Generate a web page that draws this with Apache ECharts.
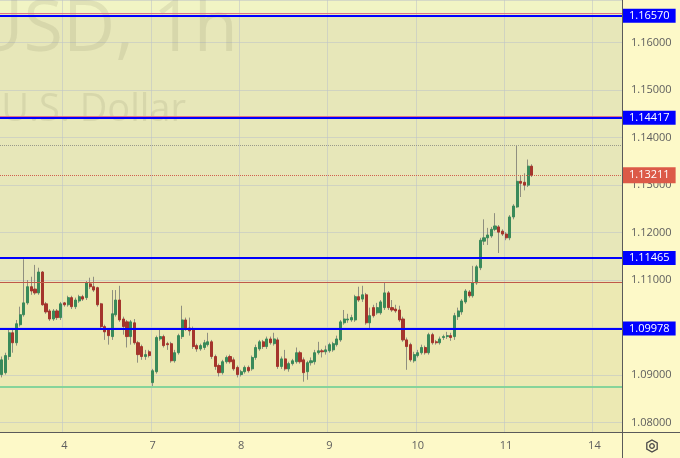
<!DOCTYPE html>
<html>
<head>
<meta charset="utf-8">
<script src="https://cdn.jsdelivr.net/npm/echarts@6/dist/echarts.min.js"></script>
<style>
  html, body { margin: 0; padding: 0; background: #fdf9c8; }
  #chart { width: 680px; height: 458px; }
</style>
</head>
<body>
<div id="chart"></div>
<script>
// days shown on the time axis (1h candles, weekend skipped)
var days = ['3', '4', '7', '8', '9', '10', '11', '14'];
var firstHour = 7;      // first visible hour on day 3
var lastDayHours = 8;   // empty slots shown on day 14

var opens = [1.0901,1.0905,1.0939,1.0989,1.0968,1.1006,1.1027,1.1052,1.1086,1.1081,
  1.1073,1.1117,1.1050,1.1035,1.1018,1.1035,1.1021,1.1052,1.1048,1.1063,
  1.1044,1.1056,1.1065,1.1063,1.1092,1.1086,1.1084,1.1050,1.1002,1.0995,
  1.0981,1.1027,1.1058,1.1018,1.1012,1.0981,1.1010,1.0968,1.0960,1.0939,
  1.0949,1.0884,1.0907,1.0976,1.0981,1.0966,1.0966,1.0930,1.0947,1.0981,
  1.1016,1.0999,1.0997,1.0962,1.0955,1.0958,1.0964,1.0970,1.0939,1.0920,
  1.0905,1.0928,1.0939,1.0932,1.0916,1.0901,1.0907,1.0916,1.0913,1.0937,
  1.0955,1.0970,1.0960,1.0976,1.0966,1.0974,1.0918,1.0934,1.0913,1.0924,
  1.0928,1.0947,1.0932,1.0907,1.0926,1.0928,1.0947,1.0951,1.0949,1.0951,
  1.0953,1.0964,1.0974,1.1010,1.1016,1.1016,1.1016,1.1065,1.1060,1.1069,
  1.1010,1.1042,1.1031,1.1031,1.1042,1.1073,1.1042,1.1039,1.1037,1.1018,
  1.0974,1.0964,1.0930,1.0941,1.0947,1.0958,1.0947,1.0985,1.0970,1.0968,
  1.0979,1.0981,1.0983,1.0981,1.1023,1.1033,1.1054,1.1075,1.1067,1.1094,
  1.1126,1.1182,1.1189,1.1193,1.1207,1.1212,1.1203,1.1197,1.1189,1.1233,
  1.1254,1.1308,1.1306,1.1300,1.1340];
var closes = [1.0932,1.0941,1.0989,1.0968,1.1008,1.1027,1.1052,1.1086,1.1077,1.1073,
  1.1117,1.1048,1.1033,1.1018,1.1035,1.1021,1.1050,1.1048,1.1063,1.1044,
  1.1058,1.1065,1.1060,1.1094,1.1086,1.1079,1.1048,1.1002,1.0991,1.0983,
  1.1029,1.1058,1.1016,1.1002,1.0981,1.1012,1.0968,1.0943,1.0939,1.0943,
  1.0941,1.0909,1.0979,1.0981,1.0962,1.0964,1.0930,1.0947,1.0983,1.1016,
  1.0997,1.0993,1.0960,1.0955,1.0962,1.0968,1.0970,1.0939,1.0918,1.0905,
  1.0928,1.0937,1.0928,1.0913,1.0901,1.0907,1.0916,1.0909,1.0937,1.0958,
  1.0970,1.0960,1.0976,1.0968,1.0976,1.0918,1.0934,1.0913,1.0924,1.0930,
  1.0947,1.0928,1.0905,1.0926,1.0930,1.0947,1.0951,1.0949,1.0953,1.0964,
  1.0966,1.0976,1.1012,1.1018,1.1018,1.1021,1.1065,1.1058,1.1069,1.1010,
  1.1025,1.1025,1.1042,1.1054,1.1073,1.1042,1.1037,1.1035,1.1016,1.0974,
  1.0960,1.0932,1.0943,1.0947,1.0958,1.0947,1.0985,1.0968,1.0968,1.0976,
  1.0981,1.0983,1.0979,1.1025,1.1035,1.1056,1.1077,1.1067,1.1094,1.1128,
  1.1184,1.1189,1.1195,1.1207,1.1214,1.1201,1.1197,1.1189,1.1233,1.1256,
  1.1308,1.1304,1.1300,1.1340,1.13211];
var lows = [1.0895,1.0901,1.0932,1.0947,1.0962,1.1002,1.1023,1.1048,1.1069,1.1069,
  1.1069,1.1046,1.1029,1.1014,1.1014,1.1016,1.1016,1.1044,1.1044,1.1039,
  1.1039,1.1052,1.1056,1.1058,1.1081,1.1075,1.1044,1.0997,1.0974,1.0964,
  1.0974,1.1023,1.1012,1.0985,1.0958,1.0964,1.0964,1.0926,1.0932,1.0932,
  1.0937,1.0876,1.0903,1.0972,1.0958,1.0953,1.0926,1.0926,1.0943,1.0976,
  1.0993,1.0983,1.0955,1.0949,1.0951,1.0953,1.0960,1.0934,1.0911,1.0897,
  1.0901,1.0924,1.0924,1.0909,1.0895,1.0897,1.0903,1.0905,1.0909,1.0932,
  1.0951,1.0955,1.0955,1.0964,1.0962,1.0913,1.0913,1.0909,1.0907,1.0920,
  1.0924,1.0924,1.0886,1.0890,1.0920,1.0922,1.0943,1.0937,1.0943,1.0947,
  1.0949,1.0960,1.0970,1.1006,1.1010,1.1012,1.1012,1.1054,1.1054,1.1006,
  1.0999,1.1021,1.1027,1.1027,1.1037,1.1037,1.1033,1.1031,1.1012,1.0970,
  1.0911,1.0928,1.0926,1.0937,1.0943,1.0943,1.0943,1.0964,1.0964,1.0964,
  1.0974,1.0976,1.0972,1.0974,1.1016,1.1027,1.1050,1.1063,1.1063,1.1090,
  1.1121,1.1174,1.1174,1.1189,1.1203,1.1157,1.1193,1.1184,1.1184,1.1228,
  1.1252,1.1275,1.1289,1.1296,1.1317];
var highs = [1.0939,1.0947,1.0995,1.0995,1.1016,1.1044,1.1144,1.1100,1.1107,1.1132,
  1.1126,1.1119,1.1054,1.1039,1.1039,1.1039,1.1054,1.1054,1.1067,1.1067,
  1.1063,1.1069,1.1069,1.1098,1.1105,1.1107,1.1086,1.1052,1.1006,1.0999,
  1.1079,1.1079,1.1088,1.1023,1.1016,1.1016,1.1018,1.0972,1.0964,1.0953,
  1.0953,1.0913,1.0983,1.0999,1.0985,1.0970,1.0970,1.0953,1.0987,1.1046,
  1.1021,1.1021,1.1002,1.0966,1.0966,1.0974,1.0989,1.0974,1.0943,1.0924,
  1.0932,1.0941,1.0943,1.0937,1.0920,1.0911,1.0920,1.0920,1.0941,1.0964,
  1.0974,1.0974,1.0981,1.0981,1.0989,1.0979,1.0939,1.0953,1.0928,1.0934,
  1.0958,1.0951,1.0937,1.0930,1.0937,1.0953,1.0970,1.0955,1.0962,1.0968,
  1.0970,1.0983,1.1016,1.1037,1.1029,1.1027,1.1069,1.1086,1.1088,1.1073,
  1.1042,1.1048,1.1052,1.1058,1.1094,1.1077,1.1058,1.1048,1.1046,1.1023,
  1.0979,1.0968,1.0949,1.0953,1.0964,1.0962,1.0989,1.0989,1.0974,1.0981,
  1.0985,1.0991,1.0989,1.1031,1.1042,1.1060,1.1081,1.1079,1.1130,1.1132,
  1.1189,1.1228,1.1210,1.1212,1.1241,1.1216,1.1207,1.1201,1.1237,1.1260,
  1.1384,1.1321,1.1325,1.1354,1.1344];

// drawn levels
var blueLevels = [1.16570, 1.14417, 1.11465, 1.09978];
var pinkLevels = [1.1663, 1.14455];
var brownLevel = 1.1095;
var greenLevel = 1.0876;
var highLevel = 1.1383;
var lastPrice = 1.13211;

var categories = [];
days.forEach(function (d, di) {
  var h0 = di === 0 ? firstHour : 0;
  var h1 = di === days.length - 1 ? lastDayHours : 24;
  for (var h = h0; h < h1; h++) categories.push(d + ' ' + (h < 10 ? '0' : '') + h + ':00');
});
function isDayStart(idx, val) { return /00:00$/.test(val); }

var wickData = [], bodyData = [];
for (var i = 0; i < opens.length; i++) {
  wickData.push([opens[i], closes[i], lows[i], highs[i]]);
  bodyData.push([opens[i], closes[i], Math.min(opens[i], closes[i]), Math.max(opens[i], closes[i])]);
}

var GREEN = '#3a8a5a', RED = '#a4352c', WICK = '#8f8f80';

var levelLines = [];
blueLevels.forEach(function (v) {
  levelLines.push({
    yAxis: v,
    lineStyle: { color: '#0000ff', width: 2, type: 'solid' },
    label: { show: true, backgroundColor: '#0000ff', color: '#ffffff' }
  });
});
pinkLevels.forEach(function (v) {
  levelLines.push({ yAxis: v, lineStyle: { color: '#e0708a', width: 1, type: 'solid' }, label: { show: false } });
});
levelLines.push({ yAxis: brownLevel, lineStyle: { color: '#c0584a', width: 1, type: 'solid' }, label: { show: false } });
levelLines.push({ yAxis: greenLevel, lineStyle: { color: '#86d49a', width: 2, type: 'solid' }, label: { show: false } });
levelLines.push({ yAxis: highLevel, lineStyle: { color: '#9a9a8a', width: 1, type: 'dotted' }, label: { show: false } });
levelLines.push({
  yAxis: lastPrice,
  lineStyle: { color: '#d0604e', width: 1, type: 'dotted' },
  label: { show: true, backgroundColor: '#dc5a48', color: '#ffffff', padding: [3, 6, 2, 6] }
});

var chart = echarts.init(document.getElementById('chart'));
chart.setOption({
  backgroundColor: '#fdf9c8',
  animation: false,
  grid: { left: 0, right: 58, top: 0, bottom: 26 },
  xAxis: {
    type: 'category',
    data: categories,
    boundaryGap: true,
    axisLine: { show: false },
    axisTick: { show: false },
    axisLabel: {
      interval: isDayStart,
      formatter: function (v) { return v.split(' ')[0]; },
      color: '#5e5e5e',
      fontFamily: 'Open Sans',
      fontSize: 11,
      margin: 8
    },
    splitLine: { show: true, interval: isDayStart, lineStyle: { color: 'rgba(190,195,200,0.55)', width: 1 } }
  },
  yAxis: {
    type: 'value',
    position: 'right',
    min: 1.078,
    max: 1.169,
    splitNumber: 9,
    minInterval: 0.01,
    maxInterval: 0.01,
    axisLine: { show: false },
    axisTick: { show: false },
    axisLabel: {
      showMinLabel: false,
      showMaxLabel: false,
      formatter: function (v) { return v.toFixed(5); },
      color: '#5e5e5e',
      fontFamily: 'Open Sans',
      fontSize: 11,
      margin: 9
    },
    splitLine: { show: true, lineStyle: { color: 'rgba(190,195,200,0.55)', width: 1 } }
  },
  graphic: [
    { type: 'text', z: 1, silent: true, style: { x: 238, y: -6, text: 'EURUSD, 1h', textAlign: 'right', textVerticalAlign: 'top',
        font: '72px "Open Sans"', fill: 'rgba(120,120,95,0.14)' } },
    { type: 'text', z: 1, silent: true, style: { x: 186, y: 91, text: 'Euro / U.S. Dollar', textAlign: 'right', textVerticalAlign: 'top',
        font: '38px "Open Sans"', fill: 'rgba(120,120,95,0.14)' } },
    { type: 'line', z: 50, silent: true, shape: { x1: 0, y1: 432.5, x2: 680, y2: 432.5 }, style: { stroke: '#5a5a5a', lineWidth: 1 } },
    { type: 'line', z: 50, silent: true, shape: { x1: 622.5, y1: 0, x2: 622.5, y2: 458 }, style: { stroke: '#5a5a5a', lineWidth: 1 } },
    { type: 'group', z: 50, x: 652, y: 446, silent: true, children: [
        { type: 'polygon', shape: { points: [[0, -6], [5.2, -3], [5.2, 3], [0, 6], [-5.2, 3], [-5.2, -3]] },
          style: { fill: 'none', stroke: '#4a4a4a', lineWidth: 1.3 } },
        { type: 'circle', shape: { cx: 0, cy: 0, r: 2.3 }, style: { fill: 'none', stroke: '#4a4a4a', lineWidth: 1.3 } }
      ] }
  ],
  series: [
    {
      type: 'line',
      data: [],
      silent: true,
      markArea: {
        silent: true,
        z: -1,
        precision: 5,
        data: [
          [{ yAxis: 1.078, itemStyle: { color: '#ece9b3' } }, { yAxis: brownLevel }],
          [{ yAxis: brownLevel, itemStyle: { color: '#e7e7b9' } }, { yAxis: pinkLevels[0] }],
          [{ yAxis: pinkLevels[0], itemStyle: { color: '#f1f4c4' } }, { yAxis: 1.169 }]
        ]
      }
    },
    {
      name: 'wick',
      type: 'candlestick',
      data: wickData,
      barWidth: 1,
      silent: true,
      itemStyle: { color: WICK, color0: WICK, borderColor: WICK, borderColor0: WICK, borderWidth: 1 },
      markLine: {
        silent: true,
        symbol: 'none',
        animation: false,
        precision: 5,
        label: {
          position: 'end',
          distance: 1,
          padding: [2, 6, 1, 6],
          fontFamily: 'Open Sans',
          fontSize: 11,
          formatter: function (p) { return p.value.toFixed(5); }
        },
        data: levelLines
      }
    },
    {
      name: 'EURUSD',
      type: 'candlestick',
      data: bodyData,
      barWidth: 2.6,
      silent: true,
      itemStyle: { color: GREEN, color0: RED, borderColor: GREEN, borderColor0: RED, borderWidth: 1 }
    }
  ]
});
</script>
</body>
</html>
